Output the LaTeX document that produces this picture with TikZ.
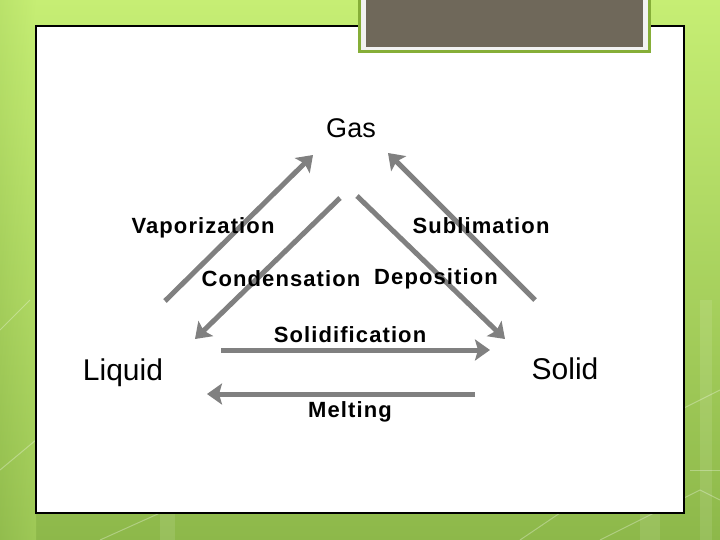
\documentclass[tikz,border=0pt]{standalone}
\usepackage{fontspec}
\setmainfont{Liberation Sans}
\usetikzlibrary{arrows.meta}
\definecolor{bgtop}{HTML}{C6EE74}
\definecolor{bgbot}{HTML}{8DB84A}
\definecolor{tabgreen}{HTML}{86AE38}
\definecolor{tabgray}{HTML}{6F685A}
\definecolor{arrowgray}{HTML}{808080}
\newfontfamily\lblfont[LetterSpace=5]{Liberation Sans Bold}
\tikzset{
  phase/.style={font=\fontsize{30}{32}\selectfont, inner sep=0pt},
  proc/.style={font=\lblfont\fontsize{22}{24}\selectfont, inner sep=0pt},
  conv/.style={draw=arrowgray, line width=5pt, -{Stealth[length=15pt,width=21pt,inset=3pt]}},
  pt/.style={inner sep=0pt, minimum size=0pt}
}
\begin{document}
\begin{tikzpicture}[x=1pt,y=-1pt]
\useasboundingbox (0,0) rectangle (720,540);
% background
\shade[top color=bgtop, bottom color=bgbot] (0,0) rectangle (720,540);
\shade[left color=bgbot!70!bgtop, right color=bgtop, opacity=0.3] (0,0) rectangle (36,540);
% faint decorative lines
\begin{scope}[draw=white, opacity=0.3, line width=1pt]
\draw (600,540) -- (700,490) -- (720,500);
\draw (640,430) -- (720,390);
\draw (0,330) -- (30,300);
\draw (0,470) -- (36,440);
\draw (690,470) -- (720,470);
\draw (100,540) -- (160,513);
\draw (520,540) -- (560,513);
\end{scope}
\begin{scope}[fill=white, opacity=0.1]
\fill (700,300) rectangle (712,540);
\fill (640,513) rectangle (660,540);
\fill (160,513) rectangle (175,540);
\end{scope}
% main white panel
\draw[black, line width=1.5pt, fill=white] (36,26) rectangle (684,513);
% title tab
\draw[tabgreen, line width=3pt, fill=white!95!black] (359,-5) rectangle (649,52);
\fill[tabgray] (366,-2) rectangle (643,47);
% phase nodes
\node[phase] (gas) at (351,128) {\fontsize{27}{30}\selectfont Gas};
\node[phase] (liquid) at (123,373) {Liquid};
\node[phase] (solid) at (565,369) {Solid};
% arrow end points
\coordinate (v1) at (165,301);
\coordinate (v2) at (313,155);
\coordinate (c1) at (340,198);
\coordinate (c2) at (195,339);
\coordinate (d1) at (357,196);
\coordinate (d2) at (505,339);
\coordinate (s1) at (535,300);
\coordinate (s2) at (388,153);
\coordinate (f1) at (221,350);
\coordinate (f2) at (490,350);
\coordinate (m1) at (475,394);
\coordinate (m2) at (207,394);
\draw[conv] (v1) -- (v2);
\draw[conv] (c1) -- (c2);
\draw[conv] (d1) -- (d2);
\draw[conv] (s1) -- (s2);
\draw[conv] (f1) -- (f2);
\draw[conv] (m1) -- (m2);
% process labels
\node[proc] (vap) at (203,228) {Vaporization};
\node[proc] (sub) at (481,226) {Sublimation};
\node[proc] (con) at (281,279) {Condensation};
\node[proc] (dep) at (436,279) {Deposition};
\node[proc] (sol) at (350,335) {Solidification};
\node[proc] (mel) at (350,412) {Melting};
\end{tikzpicture}
\end{document}
